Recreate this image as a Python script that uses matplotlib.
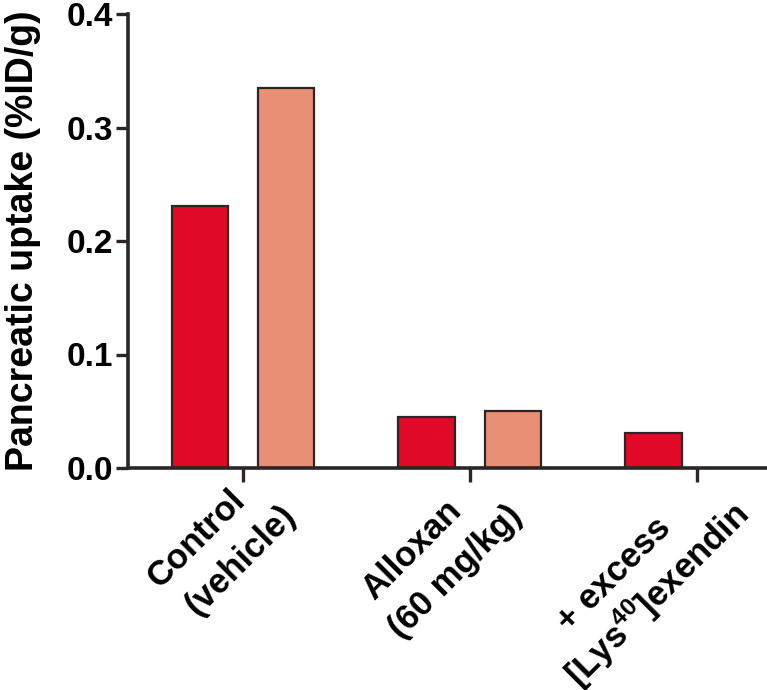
import numpy as np
import matplotlib
matplotlib.use("Agg")
import matplotlib.pyplot as plt
from matplotlib.transforms import ScaledTranslation

plt.rcParams['font.family'] = ['Liberation Sans', 'DejaVu Sans']
plt.rcParams['font.weight'] = 'bold'
plt.rcParams['mathtext.fontset'] = 'custom'
plt.rcParams['mathtext.rm'] = 'Liberation Sans:bold'
plt.rcParams['mathtext.bf'] = 'Liberation Sans:bold'

# data
groups = ["Control\n(vehicle)", "Alloxan\n(60 mg/kg)", "+ excess\n[Lys$^{40}$]exendin"]
red_vals = [0.231, 0.045, 0.031]
salmon_vals = [0.335, 0.050, np.nan]
yticks = [0.0, 0.1, 0.2, 0.3, 0.4]

red = "#e00a28"
salmon = "#e98f75"
dark = "#2b2524"

fig = plt.figure(figsize=(7.67, 6.9), dpi=100)
ax = fig.add_axes([128 / 767, 222 / 690, 639 / 767, 454 / 690])

x = np.arange(len(groups))
w = 0.25
off = 0.19
ax.bar(x - off, red_vals, w, color=red, edgecolor=dark, linewidth=1.6)
ax.bar(x + off, salmon_vals, w, color=salmon, edgecolor=dark, linewidth=1.6)

ax.set_xlim(-0.507, 2.31)
ax.set_ylim(0, 0.4)
ax.set_yticks(yticks)
ax.set_yticklabels([f"{v:.1f}" for v in yticks], fontsize=24, fontweight='bold')
ax.set_xticks(x)
ax.set_xticklabels([])

for s in ['top', 'right']:
    ax.spines[s].set_visible(False)
for s in ['left', 'bottom']:
    ax.spines[s].set_linewidth(2.6)
    ax.spines[s].set_color(dark)
ax.tick_params(axis='y', direction='out', length=9, width=2.4, color=dark, pad=2)
ax.tick_params(axis='x', direction='out', length=10, width=2.4, color=dark)

ax.set_ylabel("Pancreatic uptake (%ID/g)", fontsize=27, fontweight='bold')
ax.yaxis.set_label_coords(-0.136, 0.5)

# rotated group labels, two lines each; second line right-anchored below tick
fs = 25
renderer = fig.canvas.get_renderer()


def text_width(s):
    t = fig.text(0, 0, s, fontsize=fs, fontweight='bold')
    wpx = t.get_window_extent(renderer).width
    t.remove()
    return wpx


ox, oy = 54, -49       # px offset of line-2 baseline end from tick/axis
gap, extra = 46, 16    # perpendicular line spacing, along-text shift
u = np.array([0.7071, 0.7071])
up = np.array([-0.7071, 0.7071])
for xi, lab in zip(x, groups):
    l1, l2 = lab.split("\n")
    w1, w2 = text_width(l1), text_width(l2)
    p2 = np.array([ox, oy])
    p1 = p2 - u * ((w2 - w1) / 2 + extra) + up * gap
    for line, p in [(l1, p1), (l2, p2)]:
        tr = ax.get_xaxis_transform() + ScaledTranslation(p[0] / 100, p[1] / 100, fig.dpi_scale_trans)
        ax.text(xi, 0, line, transform=tr, rotation=45, rotation_mode='anchor',
                ha='right', va='baseline', fontsize=fs, fontweight='bold')

fig.savefig("out.png", dpi=100)
